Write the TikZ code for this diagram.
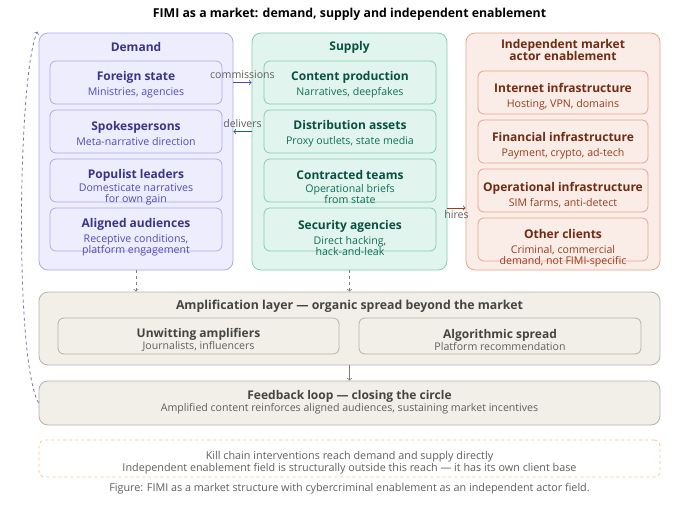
\documentclass[tikz,border=0pt]{standalone}
\usepackage{fontspec}
\setmainfont{Open Sans}
\usetikzlibrary{positioning}

\definecolor{demFill}{HTML}{EEEDFE}
\definecolor{demLine}{HTML}{AFA9EC}
\definecolor{demDark}{HTML}{3C3489}
\definecolor{demText}{HTML}{534AB7}
\definecolor{supFill}{HTML}{E1F5EE}
\definecolor{supLine}{HTML}{7FCFB2}
\definecolor{supDark}{HTML}{085041}
\definecolor{supText}{HTML}{0F6E56}
\definecolor{indFill}{HTML}{FAECE7}
\definecolor{indLine}{HTML}{EBA48C}
\definecolor{indDark}{HTML}{712B13}
\definecolor{indText}{HTML}{993C1D}
\definecolor{ampFill}{HTML}{F1EFE8}
\definecolor{ampLine}{HTML}{B4B2A9}
\definecolor{ampDark}{HTML}{444441}
\definecolor{ampText}{HTML}{5F5E5A}
\definecolor{killLine}{HTML}{F5C58A}

\newcommand{\ttlfont}{\fontsize{12}{12}\selectfont\bfseries}
\newcommand{\subfont}{\fontsize{10.6}{11}\selectfont}

\tikzset{
    panel/.style={rectangle,rounded corners=9pt,draw,line width=0.8pt,inner sep=0pt},
    itembox/.style={rectangle,rounded corners=6pt,draw,line width=0.8pt,inner sep=0pt,minimum height=43pt},
    itemtext/.style={align=center,inner sep=0pt,font=\subfont,yshift=-2pt},
    ttl/.style={font=\ttlfont},
    lbl/.style={font=\subfont,text=ampText,inner sep=1pt}
}

\begin{document}
\begin{tikzpicture}[x=1pt,y=-1pt]
    \useasboundingbox (0,0) rectangle (699,509);

    \node[font=\fontsize{12.3}{13}\selectfont\bfseries] (title) at (349.5,14.5) {FIMI as a market: demand, supply and independent enablement};

    % three market fields
    \node[panel,draw=demLine,fill=demFill,minimum width=194pt,minimum height=237pt] (demand) at (136,151.5) {};
    \node[panel,draw=supLine,fill=supFill,minimum width=195pt,minimum height=237pt] (supply) at (349.5,151.5) {};
    \node[panel,draw=indLine,fill=indFill,minimum width=194pt,minimum height=237pt] (indep) at (563,151.5) {};

    \node[ttl,text=demDark] (demandT) at (136,47) {Demand};
    \node[ttl,text=supDark] (supplyT) at (349.5,47) {Supply};
    \node[ttl,text=indDark,align=center] (indepT) at (563,50) {Independent market\\actor enablement};

    % demand side
    \node[itembox,draw=demLine,fill=demFill,minimum width=172pt] (fstate) at (136,82.5) {};
    \node[itemtext,text=demText] (fstateT) at (fstate) {{\ttlfont\color{demDark}Foreign state}\\[4pt]Ministries, agencies};
    \node[itembox,draw=demLine,fill=demFill,minimum width=172pt] (spokes) at (136,131.5) {};
    \node[itemtext,text=demText] (spokesT) at (spokes) {{\ttlfont\color{demDark}Spokespersons}\\[4pt]Meta-narrative direction};
    \node[itembox,draw=demLine,fill=demFill,minimum width=172pt] (populist) at (136,180.5) {};
    \node[itemtext,text=demText,yshift=-4.5pt] (populistT) at (populist) {{\ttlfont\color{demDark}Populist leaders}\\[2pt]Domesticate narratives\\for own gain};
    \node[itembox,draw=demLine,fill=demFill,minimum width=172pt] (aligned) at (136,229.5) {};
    \node[itemtext,text=demText,yshift=-6pt] (alignedT) at (aligned) {{\ttlfont\color{demDark}Aligned audiences}\\[4pt]Receptive conditions,\\platform engagement};

    % supply side
    \node[itembox,draw=supLine,fill=supFill,minimum width=172pt] (content) at (350,82.5) {};
    \node[itemtext,text=supText] (contentT) at (content) {{\ttlfont\color{supDark}Content production}\\[4pt]Narratives, deepfakes};
    \node[itembox,draw=supLine,fill=supFill,minimum width=172pt] (distrib) at (350,131.5) {};
    \node[itemtext,text=supText] (distribT) at (distrib) {{\ttlfont\color{supDark}Distribution assets}\\[4pt]Proxy outlets, state media};
    \node[itembox,draw=supLine,fill=supFill,minimum width=172pt] (teams) at (350,180.5) {};
    \node[itemtext,text=supText,yshift=-4.5pt] (teamsT) at (teams) {{\ttlfont\color{supDark}Contracted teams}\\[2pt]Operational briefs\\from state};
    \node[itembox,draw=supLine,fill=supFill,minimum width=172pt] (security) at (350,229.5) {};
    \node[itemtext,text=supText,yshift=-6pt] (securityT) at (security) {{\ttlfont\color{supDark}Security agencies}\\[4pt]Direct hacking,\\hack-and-leak};

    % enablement field
    \node[itembox,draw=indLine,fill=indFill,minimum width=170pt] (internet) at (563,92.5) {};
    \node[itemtext,text=indText,yshift=-2.5pt] (internetT) at (internet) {{\ttlfont\color{indDark}Internet infrastructure}\\[4pt]Hosting, VPN, domains};
    \node[itembox,draw=indLine,fill=indFill,minimum width=170pt] (financial) at (563,141.5) {};
    \node[itemtext,text=indText,yshift=-2.5pt] (financialT) at (financial) {{\ttlfont\color{indDark}Financial infrastructure}\\[4pt]Payment, crypto, ad-tech};
    \node[itembox,draw=indLine,fill=indFill,minimum width=170pt] (operational) at (563,190.5) {};
    \node[itemtext,text=indText,yshift=-2.5pt] (operationalT) at (operational) {{\ttlfont\color{indDark}Operational infrastructure}\\[4pt]SIM farms, anti-detect};
    \node[itembox,draw=indLine,fill=indFill,minimum width=170pt] (other) at (563,239.5) {};
    \node[itemtext,text=indText,yshift=-7pt] (otherT) at (other) {{\ttlfont\color{indDark}Other clients}\\[4pt]Criminal, commercial\\demand, not FIMI-specific};

    % amplification and feedback
    \node[panel,draw=ampLine,fill=ampFill,minimum width=621pt,minimum height=73pt] (amp) at (349.5,328.5) {};
    \node[font=\fontsize{12.3}{13}\selectfont\bfseries,text=ampDark] (ampT) at (349.5,306) {Amplification layer --- organic spread beyond the market};
    \node[itembox,draw=ampLine,fill=ampFill,minimum width=281pt,minimum height=36pt] (unwitting) at (198.5,336) {};
    \node[itemtext,text=ampText,yshift=-1.5pt] (unwittingT) at (unwitting) {{\ttlfont\color{ampDark}Unwitting amplifiers}\\[1pt]Journalists, influencers};
    \node[itembox,draw=ampLine,fill=ampFill,minimum width=282pt,minimum height=36pt] (algo) at (500,336) {};
    \node[itemtext,text=ampText,yshift=-1.5pt] (algoT) at (algo) {{\ttlfont\color{ampDark}Algorithmic spread}\\[1pt]Platform recommendation};

    \node[panel,draw=ampLine,fill=ampFill,minimum width=621pt,minimum height=44pt] (feedback) at (349.5,403) {};
    \node[itemtext,text=ampText,yshift=2.5pt] (feedbackT) at (feedback) {{\ttlfont\color{ampDark}Feedback loop --- closing the circle}\\[1pt]Amplified content reinforces aligned audiences, sustaining market incentives};

    % kill chain note
    \node[rectangle,rounded corners=6pt,draw=killLine,dashed,line width=0.8pt,minimum width=621pt,minimum height=37pt] (kill) at (349.5,458.5) {};
    \node[itemtext,text=ampText,font=\fontsize{10.8}{12}\selectfont,yshift=-2.5pt] (killT) at (kill) {Kill chain interventions reach demand and supply directly\\Independent enablement field is structurally outside this reach --- it has its own client base};

    \node[font=\fontsize{10.8}{12}\selectfont,text=ampText] (caption) at (349.5,489) {Figure: FIMI as a market structure with cybercriminal enablement as an independent actor field.};

    % market relations
    \draw[->,demText,line width=0.8pt] (demand.east |- fstate) -- (supply.west |- fstate) node[lbl,midway,above=2pt] {commissions};
    \draw[->,supText,line width=0.8pt] (supply.west |- distrib) -- (demand.east |- distrib) node[lbl,midway,above=2pt] {delivers};
    \draw[->,indText,line width=0.8pt] ([yshift=-56.5pt]supply.east) -- ([yshift=-56.5pt]indep.west) node[lbl,midway,below=1pt] {hires};

    \draw[->,ampText!80,dashed,line width=0.8pt] (demand.south) -- (demand.south |- amp.north);
    \draw[->,ampText!80,dashed,line width=0.8pt] (supply.south) -- (supply.south |- amp.north);
    \draw[->,ampText!80,line width=0.8pt] (amp.south) -- (feedback.north);

    % closing the circle
    \draw[->,demText!80,dashed,line width=0.8pt] (feedback.west) .. controls (14,360) and (18,70) .. ([shift={(-1pt,1pt)}]demand.north west);
\end{tikzpicture}
\end{document}
